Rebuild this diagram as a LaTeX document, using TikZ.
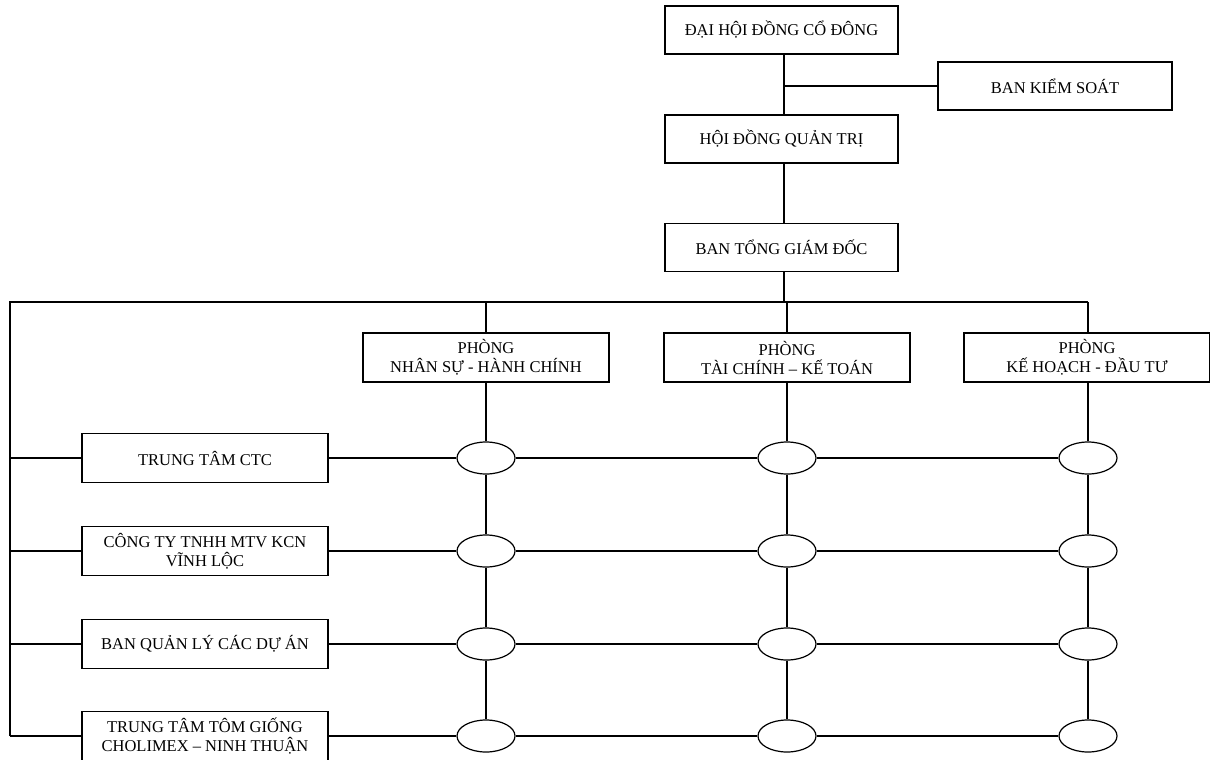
\documentclass[tikz,border=0pt]{standalone}
\usepackage{fontspec}
\setmainfont{Liberation Serif}
\usetikzlibrary{shapes.geometric}
\begin{document}
\begin{tikzpicture}[x=1pt,y=-1pt,
  every node/.style={inner sep=0pt},
  box/.style={draw,line width=1.2pt,minimum width=246pt,minimum height=49pt,align=center,font=\fontsize{16.5}{19}\selectfont},
  topbox/.style={box,minimum width=233pt,minimum height=48pt},
  oval/.style={draw,ellipse,line width=1.2pt,minimum width=58pt,minimum height=32pt},
  ln/.style={line width=1.2pt}]
\useasboundingbox (0,0) rectangle (1210,760);
\fill[white] (0,0) rectangle (1210,760);
% top chain
\node[topbox] (dh) at (781.5,30) {ĐẠI HỘI ĐỒNG CỔ ĐÔNG};
\node[topbox] (hd) at (781.5,139) {HỘI ĐỒNG QUẢN TRỊ};
\node[topbox] (tg) at (781.5,247.5) {BAN TỔNG GIÁM ĐỐC};
\node[topbox,minimum width=234pt] (ks) at (1055,86) {BAN KIỂM SOÁT};
\coordinate (br) at (784,86);
\draw[ln] (dh.south -| br) -- (hd.north -| br);
\draw[ln] (br) -- (ks.west);
\draw[ln] (hd.south -| br) -- (tg.north -| br);
% bus
\coordinate (busL) at (10,302);
\coordinate (busR) at (1088,302);
\coordinate (busM) at (784,302);
\coordinate (botL) at (10,736);
\draw[ln] (tg.south -| busM) -- (busM);
\draw[ln] (botL) -- (busL) -- (busR);
% departments
\node[box] (p1) at (486,357.5) {PHÒNG\\NHÂN SỰ - HÀNH CHÍNH};
\node[box] (p2) at (787,357.5) {PHÒNG\\TÀI CHÍNH – KẾ TOÁN};
\node[box] (p3) at (1087,357.5) {PHÒNG\\KẾ HOẠCH - ĐẦU TƯ};
\draw[ln] (busL -| p1) -- (p1.north);
\draw[ln] (busL -| p2) -- (p2.north);
\draw[ln] (busR) -- (busR |- p3.north);
% left units
\node[box] (u1) at (205,458) {TRUNG TÂM CTC};
\node[box] (u2) at (205,551) {CÔNG TY TNHH MTV KCN\\VĨNH LỘC};
\node[box] (u3) at (205,644) {BAN QUẢN LÝ CÁC DỰ ÁN};
\node[box] (u4) at (205,736) {TRUNG TÂM TÔM GIỐNG\\CHOLIMEX – NINH THUẬN};
% ovals
\foreach \r/\y in {1/458,2/551,3/644,4/736}{
  \node[oval] (a\r) at (486,\y) {};
  \node[oval] (b\r) at (787,\y) {};
  \node[oval] (c\r) at (1088,\y) {};
  \draw[ln] (u\r.east) -- (a\r.west);
  \draw[ln] (a\r.east) -- (b\r.west);
  \draw[ln] (b\r.east) -- (c\r.west);
  \draw[ln] (busL |- u\r) -- (u\r.west);
}
\draw[ln] (p1.south) -- (a1.north) (a1.south) -- (a2.north) (a2.south) -- (a3.north) (a3.south) -- (a4.north);
\draw[ln] (p2.south) -- (b1.north) (b1.south) -- (b2.north) (b2.south) -- (b3.north) (b3.south) -- (b4.north);
\draw[ln] (p3.south -| c1) -- (c1.north) (c1.south) -- (c2.north) (c2.south) -- (c3.north) (c3.south) -- (c4.north);
\end{tikzpicture}
\end{document}
